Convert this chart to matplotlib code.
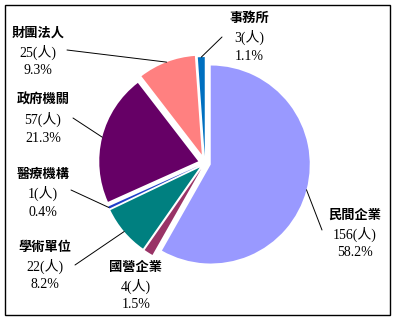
import numpy as np
import matplotlib.pyplot as plt
from matplotlib.patches import Rectangle

plt.rcParams['font.family'] = ['Liberation Serif', 'Noto Sans CJK TC']

# 資料
names = ['民間企業', '國營企業', '學術單位', '醫療機構', '政府機關', '財團法人', '事務所']
counts = [156, 4, 22, 1, 57, 25, 3]
colors = ['#9999FF', '#993366', '#008080', '#1F3FC8', '#660066', '#FF8080', '#0070C0']

total = sum(counts)
pcts = [100.0 * c / total for c in counts]

W, H = 397, 322
fig = plt.figure(figsize=(W / 100, H / 100), dpi=100)

# 圓餅圖的軸 (中心約在 205,163, 半徑約 99 px)
cx, cy, R = 205, 163, 99
span = 1.6
side = 2 * span * R
ax = fig.add_axes([(cx - side / 2) / W, (H - cy - side / 2) / H, side / W, side / H])
wedges, _ = ax.pie(counts, colors=colors, startangle=90, counterclock=False,
                   explode=[0.06, 0.07, 0.07, 0.07, 0.07, 0.09, 0.07], radius=1.0,
                   wedgeprops=dict(linewidth=0))
ax.set_xlim(-span, span)
ax.set_ylim(-span, span)
ax.set_aspect('equal')
ax.axis('off')

# 標籤位置 (名稱中心 x, 名稱 y, 引線起點) 以圖像像素 (左上原點)
label_pos = {
    '民間企業': (355, 215, (322, 230)),
    '國營企業': (136, 267, None),
    '學術單位': (45, 247, (75, 265)),
    '醫療機構': (43, 174, (71, 190)),
    '政府機關': (43, 100, (73, 118)),
    '財團法人': (38, 33, (67, 50)),
    '事務所': (249, 18, (222, 37)),
}

def fpx(x, y):
    return x / W, (H - y) / H

for w, name, n, p in zip(wedges, names, counts, pcts):
    x, y, lead = label_pos[name]
    fig.text(*fpx(x, y), name, ha='center', va='center', fontsize=9.5,
             fontweight='bold', family=['Noto Sans CJK TC'])
    fig.text(*fpx(x, y + 19), f'{n}(人)', ha='center', va='center', fontsize=10)
    fig.text(*fpx(x, y + 38), f'{p:.1f}%', ha='center', va='center', fontsize=10)
    if lead is not None:
        mid = np.deg2rad((w.theta1 + w.theta2) / 2)
        px = w.center[0] + w.r * np.cos(mid)
        py = w.center[1] + w.r * np.sin(mid)
        ax.annotate('', xy=(px, py), xytext=fpx(*lead), textcoords='figure fraction',
                    arrowprops=dict(arrowstyle='-', color='black', lw=0.7,
                                    shrinkA=0, shrinkB=0))

fig.patches.append(Rectangle(fpx(5, 315), 385 / W, 310 / H, transform=fig.transFigure,
                             fill=False, edgecolor='black', linewidth=1))

fig.savefig('out.png', dpi=100)
